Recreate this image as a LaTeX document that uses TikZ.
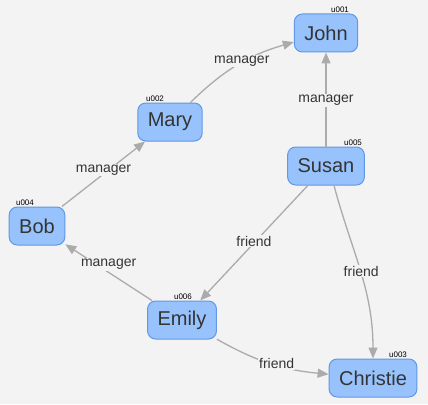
\documentclass[tikz,border=0pt]{standalone}
\usepackage{fontspec}
\setmainfont{Liberation Sans}
\usetikzlibrary{arrows.meta}
\definecolor{bgcol}{HTML}{F3F3F3}
\definecolor{nodefill}{HTML}{97C2FC}
\definecolor{nodeline}{HTML}{5F98E6}
\definecolor{edgecol}{HTML}{ABABAB}
\definecolor{textcol}{HTML}{343434}
\begin{document}
\begin{tikzpicture}[
  x=1pt, y=-1pt,
  person/.style={rectangle, rounded corners=8pt, draw=nodeline, line width=1pt, fill=nodefill,
    minimum height=38pt, inner xsep=10pt, text=textcol, font=\fontsize{20}{22}\selectfont},
  ulabel/.style={font=\fontsize{8}{9}\selectfont, text=black, inner sep=1pt},
  rel/.style={draw=edgecol, line width=1.3pt, -{Triangle[length=11pt,width=9pt]}},
  tag/.style={fill=bgcol, inner sep=1pt, yshift=4pt, text=textcol, font=\fontsize{14}{16}\selectfont}
]
  \fill[bgcol] (0,0) rectangle (428,404);
  \useasboundingbox (0,0) rectangle (428,404);

  \node[person, label={[ulabel, xshift=14pt]above:u001}] (john) at (326,33) {John};
  \node[person, label={[ulabel, xshift=-15pt]above:u002}] (mary) at (170,122) {Mary};
  \node[person, label={[ulabel, xshift=27pt]above:u005}] (susan) at (326,166) {Susan};
  \node[person, label={[ulabel, xshift=-12pt]above:u004}] (bob) at (37,226) {Bob};
  \node[person, label={[ulabel, xshift=1pt]above:u006}] (emily) at (182,320) {Emily};
  \node[person, label={[ulabel, xshift=25pt]above:u003}] (christie) at (373,378) {Christie};
  \coordinate (s1) at ([xshift=8pt]susan.south);

  \draw[rel] (mary) to[bend left=14] node[tag, xshift=4pt] {manager} (john);
  \draw[rel] (susan) -- node[tag, yshift=-5pt] {manager} (john);
  \draw[rel] (bob) -- node[tag] {manager} (mary);
  \draw[rel] (emily) -- node[tag, yshift=4pt] {manager} (bob);
  \draw[rel] (susan) -- node[tag, yshift=-2pt] {friend} (emily);
  \draw[rel] (s1) to[out=-75, in=90] node[tag, yshift=-4pt, xshift=1pt] {friend} (christie.north);
  \draw[rel] (emily) to[bend right=12] node[tag, yshift=-4pt, xshift=6pt] {friend} (christie);
\end{tikzpicture}
\end{document}
